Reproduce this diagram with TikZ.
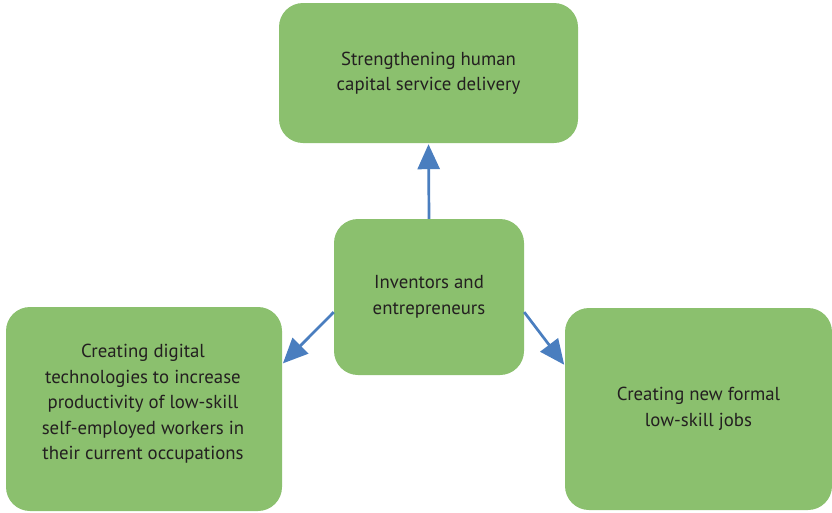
\documentclass[tikz,border=0pt]{standalone}
\usepackage{fontspec}
\setmainfont{PT Sans}
\usetikzlibrary{arrows.meta}
\definecolor{boxgreen}{HTML}{8BC06E}
\definecolor{linkblue}{HTML}{4A7EBF}
\definecolor{inkgray}{HTML}{231F20}
\begin{document}
\begin{tikzpicture}[x=1pt,y=-1pt,
  card/.style={fill=boxgreen, draw=none, rounded corners=24pt, align=center,
    text=inkgray, font=\fontsize{18.8}{25.5}\selectfont, inner sep=0pt},
  link/.style={draw=linkblue, line width=2.7pt,
    -{Triangle[length=25pt,width=22pt]}, shorten >=1pt}]
  \useasboundingbox (0,0) rectangle (832,512);

  \node[card, minimum width=299pt, minimum height=140pt] (top) at (428.5,73)
    {Strengthening human\\capital service delivery};
  \node[card, minimum width=190pt, minimum height=156pt] (ctr) at (429,297)
    {Inventors and\\entrepreneurs};
  \node[card, minimum width=276pt, minimum height=204pt] (left) at (144,409)
    {};
  \node[card, inner sep=0pt] (lefttext) at (143,404)
    {Creating digital\\technologies to increase\\productivity of low-skill\\self-employed workers in\\their current occupations};
  \node[card, minimum width=267pt, minimum height=202pt] (right) at (698.5,409)
    {Creating new formal\\low-skill jobs};

  \draw[link] (ctr.north) -- (top.south);
  \draw[link] (ctr.189) -- (left.18);
  \draw[link] (ctr.-9) -- (right.162);
\end{tikzpicture}
\end{document}
